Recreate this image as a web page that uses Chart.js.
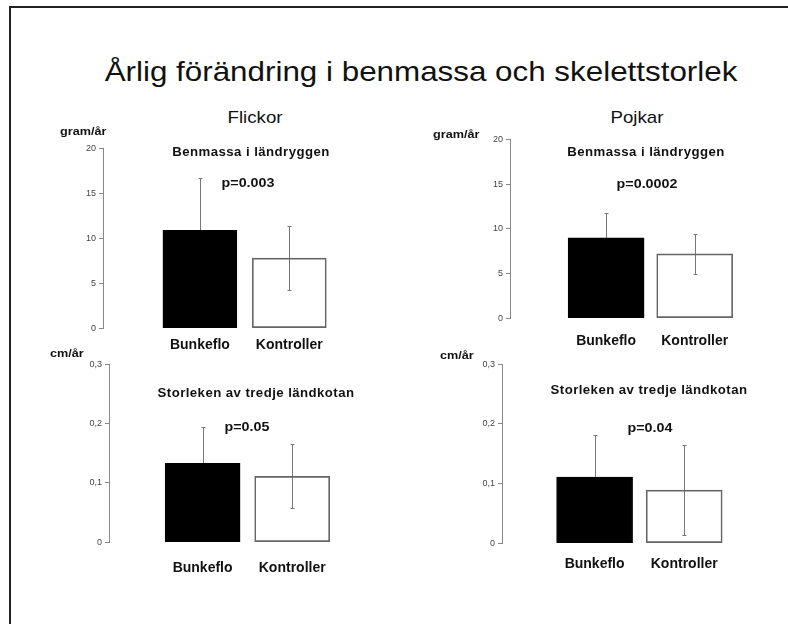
<!DOCTYPE html>
<html>
<head>
<meta charset="utf-8">
<script src="https://cdn.jsdelivr.net/npm/chart.js@4.4.1/dist/chart.umd.min.js"></script>
<style>
  html, body { margin: 0; padding: 0; background: #fff; }
  body { width: 788px; height: 624px; position: relative; overflow: hidden;
         font-family: "Liberation Sans", Arial, sans-serif; color: #111; }
  #frame { position: absolute; left: 9px; top: 6px; right: -5px; bottom: -5px;
           border-left: 2px solid #222; border-top: 2px solid #222; }
  canvas { position: absolute; }
  .t { position: absolute; transform: translate(-50%, -50%) scaleX(1.12); white-space: nowrap; }
  .title { font-size: 28px; }
  .group { font-size: 17px; transform: translate(-50%, -50%) scaleX(1.1); }
  .sub { font-size: 12px; font-weight: bold; letter-spacing: 0.4px; transform: translate(-50%, -50%) scaleX(1.1); }
  .pval { font-size: 13px; font-weight: bold; transform: translate(-50%, -50%) scaleX(1.1); }
  .unit { font-size: 11px; font-weight: bold; transform-origin: 0 50%; transform: translate(0, -50%) scaleX(1.15); }
</style>
</head>
<body>
<div id="frame"></div>
<canvas id="c1"></canvas>
<canvas id="c2"></canvas>
<canvas id="c3"></canvas>
<canvas id="c4"></canvas>
<script>
// data
const categories = ['Bunkeflo', 'Kontroller'];
const flickorMassa = [10.9, 7.8];        // gram/år
const flickorMassaSd = [5.8, 3.6];
const pojkarMassa = [9.0, 7.2];
const pojkarMassaSd = [2.8, 2.2];
const flickorStorlek = [0.133, 0.111];   // cm/år
const flickorStorlekSd = [0.061, 0.054];
const pojkarStorlek = [0.111, 0.089];
const pojkarStorlekSd = [0.07, 0.075];
const massaTickValues = [0, 5, 10, 15, 20];
const massaTickLabels = ['0', '5', '10', '15', '20'];
const storlekTickValues = [0, 0.1, 0.2, 0.3];
const storlekTickLabels = ['0', '0,1', '0,2', '0,3'];

// texts
function text(str, x, y, cls) {
  const d = document.createElement('div');
  d.className = 't ' + cls;
  d.textContent = str;
  d.style.left = x + 'px';
  d.style.top = y + 'px';
  document.body.appendChild(d);
}
text('Årlig förändring i benmassa och skelettstorlek', 421, 72, 'title');
text('Flickor', 255, 118, 'group');
text('Pojkar', 637, 118, 'group');
text('Benmassa i ländryggen', 251, 152, 'sub');
text('p=0.003', 248, 182, 'pval');
text('Benmassa i ländryggen', 646, 152, 'sub');
text('p=0.0002', 647, 183, 'pval');
text('Storleken av tredje ländkotan', 256, 393, 'sub');
text('p=0.05', 247, 426, 'pval');
text('Storleken av tredje ländkotan', 649, 390, 'sub');
text('p=0.04', 650, 427, 'pval');
text('gram/år', 60, 131, 'unit');
text('gram/år', 433, 134, 'unit');
text('cm/år', 50, 353, 'unit');
text('cm/år', 440, 355, 'unit');

// error bars drawn under the bars, so the black bar hides its lower half
const errorBars = {
  id: 'errorBars',
  beforeDatasetsDraw(chart) {
    const ctx = chart.ctx, xs = chart.scales.x, ys = chart.scales.y;
    const ds = chart.data.datasets[0];
    ctx.save();
    ctx.strokeStyle = '#777';
    ctx.lineWidth = 1;
    ds.data.forEach((p, i) => {
      const px = Math.round(xs.getPixelForValue(p.x)) + 0.5;
      const hi = Math.round(ys.getPixelForValue(p.y + ds.sd[i])) + 0.5;
      const lo = Math.round(ys.getPixelForValue(p.y - ds.sd[i])) + 0.5;
      ctx.beginPath();
      ctx.moveTo(px, hi); ctx.lineTo(px, lo);
      ctx.moveTo(px - 2, hi); ctx.lineTo(px + 2, hi);
      ctx.moveTo(px - 2, lo); ctx.lineTo(px + 2, lo);
      ctx.stroke();
    });
    ctx.restore();
  }
};

function makeConfig(box, values, sd, yMax, tickValues, tickLabels, xMin) {
  return {
    type: 'bar',
    data: {
      datasets: [{
        data: values.map((v, i) => ({ x: i + 1, y: v })),
        sd: sd,
        backgroundColor: ['#000', 'rgba(255,255,255,0)'],
        borderColor: ['#000', '#666'],
        borderWidth: 1,
        borderSkipped: false,
        barThickness: box.barW
      }]
    },
    options: {
      responsive: false,
      animation: false,
      layout: { padding: 0 },
      plugins: { legend: { display: false }, tooltip: { enabled: false } },
      scales: {
        x: {
          type: 'linear',
          offset: false,
          min: xMin,
          max: 2.5,
          afterBuildTicks: s => { s.ticks = categories.map((c, i) => ({ value: i + 1 })); },
          ticks: {
            callback: (v, i) => categories[i],
            font: { family: '"Liberation Sans", Arial, sans-serif', size: 14, weight: 'bold' },
            color: '#111',
            padding: box.labelPad,
            maxRotation: 0,
            autoSkip: false
          },
          grid: { display: false, offset: false },
          border: { display: false }
        },
        y: {
          min: 0,
          max: yMax,
          afterBuildTicks: s => { s.ticks = tickValues.map(v => ({ value: v })); },
          afterFit: s => { s.width = 60; },
          ticks: {
            callback: (v, i) => tickLabels[i],
            font: { family: '"Liberation Sans", Arial, sans-serif', size: 9 },
            color: '#444',
            padding: 3
          },
          grid: { drawOnChartArea: false, drawTicks: true, tickLength: 4, color: '#888' },
          border: { display: true, color: '#888', width: 1 }
        }
      }
    },
    plugins: [errorBars]
  };
}

function panel(id, box, values, sd, yMax, tickValues, tickLabels) {
  const unit = box.c2 - box.c1;
  const xMin = 1 - (box.c1 - box.axisX) / unit;
  const wantW = (2.5 - xMin) * unit;
  const wantH = box.zero - box.top;
  const cv = document.getElementById(id);
  let w = Math.round(wantW + 80), h = Math.round(wantH + 50);
  cv.width = w; cv.height = h;
  let chart = new Chart(cv, makeConfig(box, values, sd, yMax, tickValues, tickLabels, xMin));
  let ca = chart.chartArea;
  w = Math.round(w + wantW - (ca.right - ca.left));
  h = Math.round(h + wantH - (ca.bottom - ca.top));
  chart.destroy();
  cv.width = w; cv.height = h;
  chart = new Chart(cv, makeConfig(box, values, sd, yMax, tickValues, tickLabels, xMin));
  ca = chart.chartArea;
  cv.style.left = Math.round(box.axisX - ca.left) + 'px';
  cv.style.top = Math.round(box.top - ca.top) + 'px';
}

panel('c1', { axisX: 103, top: 148, zero: 328, c1: 200, c2: 289.5, barW: 74, labelPad: 1 },
  flickorMassa, flickorMassaSd, 20, massaTickValues, massaTickLabels);
panel('c2', { axisX: 510, top: 139, zero: 318, c1: 606, c2: 694.5, barW: 76, labelPad: 7 },
  pojkarMassa, pojkarMassaSd, 20, massaTickValues, massaTickLabels);
panel('c3', { axisX: 109, top: 364, zero: 542, c1: 202.5, c2: 292, barW: 75, labelPad: 10 },
  flickorStorlek, flickorStorlekSd, 0.3, storlekTickValues, storlekTickLabels);
panel('c4', { axisX: 502, top: 364, zero: 543, c1: 594.5, c2: 684, barW: 76, labelPad: 5 },
  pojkarStorlek, pojkarStorlekSd, 0.3, storlekTickValues, storlekTickLabels);
</script>
</body>
</html>
